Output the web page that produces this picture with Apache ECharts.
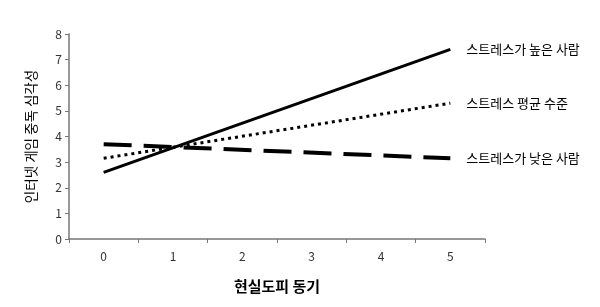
<!DOCTYPE html>
<html><head><meta charset="utf-8">
<script src="https://cdn.jsdelivr.net/npm/echarts@6/dist/echarts.min.js"></script>
<style>html,body{margin:0;padding:0;background:#fff}#c{width:600px;height:307px}</style>
</head><body><div id="c"></div>
<script>
const categories = ['0','1','2','3','4','5'];
const highStress = [2.6, null, null, null, null, 7.4];
const avgStress = [3.15, null, null, null, null, 5.3];
const lowStress = [3.7, null, null, null, null, 3.15];
const seriesNames = ['스트레스가 높은 사람', '스트레스 평균 수준', '스트레스가 낮은 사람'];
const yTicks = [0, 8, 1];

const font = '"Noto Sans CJK KR", "Noto Sans", sans-serif';
const chart = echarts.init(document.getElementById('c'));
function mk(name, data, type, width) {
  return {
    name, type: 'line', data, connectNulls: true, symbol: 'none', silent: true,
    lineStyle: { color: '#000', width, type },
    endLabel: { show: true, formatter: name, distance: 16, color: '#000', fontSize: 13, fontFamily: font }
  };
}
chart.setOption({
  animation: false,
  grid: { left: 69, right: 115, top: 34, bottom: 68 },
  xAxis: {
    type: 'category', data: categories, boundaryGap: true,
    name: '현실도피 동기', nameLocation: 'middle', nameGap: 40,
    nameTextStyle: { fontSize: 15, fontWeight: 'bold', color: '#000', fontFamily: font },
    axisLine: { lineStyle: { color: '#777', width: 1.5 } },
    axisTick: { show: true, length: 4, lineStyle: { color: '#777' } },
    axisLabel: { color: '#333', fontSize: 12, margin: 11, fontFamily: font }
  },
  yAxis: {
    type: 'value', min: yTicks[0], max: yTicks[1], interval: yTicks[2],
    name: '인터넷 게임 중독 심각성', nameLocation: 'middle', nameGap: 31, nameRotate: 90,
    nameTextStyle: { fontSize: 13.5, color: '#000', fontFamily: font },
    axisLine: { show: true, lineStyle: { color: '#777', width: 1.5 } },
    axisTick: { show: true, length: 4, lineStyle: { color: '#777' } },
    splitLine: { show: false },
    axisLabel: { color: '#333', fontSize: 12, margin: 7, fontFamily: font }
  },
  series: [
    mk(seriesNames[0], highStress, 'solid', 3),
    mk(seriesNames[1], avgStress, [3, 4], 3),
    mk(seriesNames[2], lowStress, [28, 12], 4)
  ]
});
</script></body></html>
